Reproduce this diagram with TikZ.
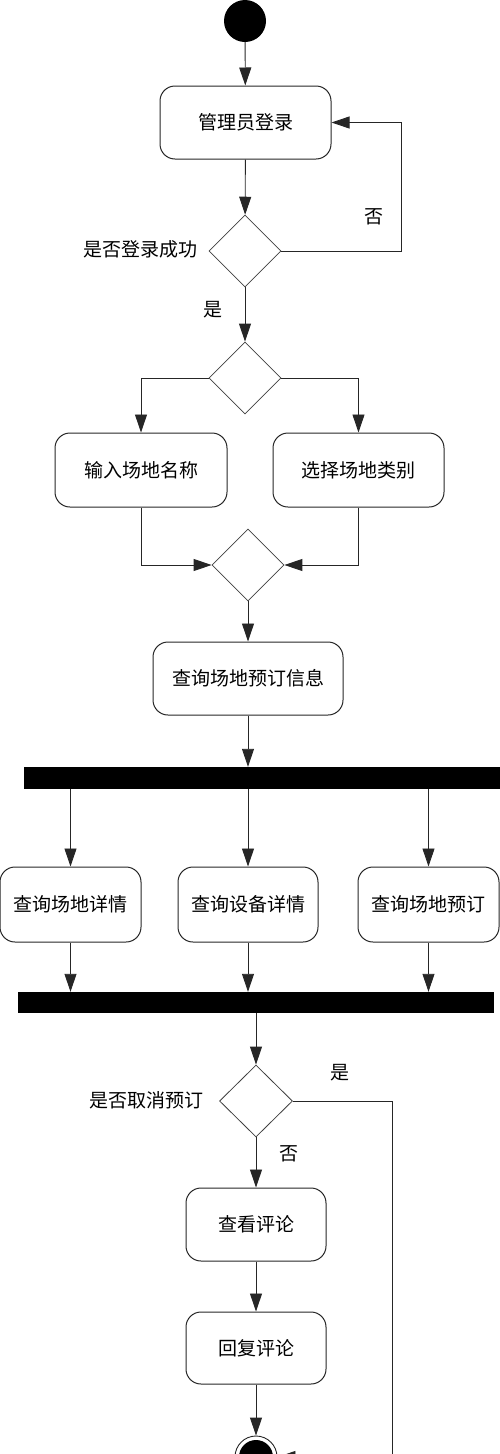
\documentclass[tikz,border=0pt]{standalone}
\usepackage{fontspec}
\setmainfont{Noto Sans CJK SC}
\usetikzlibrary{shapes.geometric,arrows.meta}
\tikzset{
  act/.style={draw=black!85, line width=1pt, rounded corners=15pt, inner sep=0pt, font=\fontsize{19}{22}\selectfont},
  dec/.style={diamond, draw=black!75, line width=0.8pt, minimum width=72pt, minimum height=72pt, inner sep=0pt},
  bar/.style={fill=black, draw=none, inner sep=0pt},
  lbl/.style={inner sep=0pt, font=\fontsize{19}{22}\selectfont},
  flow/.style={draw=black!85, line width=0.9pt, -{Triangle[length=18pt,width=12pt]}},
  plain/.style={draw=black!85, line width=0.9pt},
}
\begin{document}
\begin{tikzpicture}[x=1pt,y=-1pt]
\useasboundingbox (0,0) rectangle (500,1454);
\clip (0,0) rectangle (500,1454);
% nodes
\node[circle, fill=black, minimum size=42pt, inner sep=0pt] (start) at (245,21) {};
\node[act, minimum width=171pt, minimum height=73pt] (login) at (245.5,122.5) {管理员登录};
\node[dec] (d1) at (245,251) {};
\node[lbl, anchor=east] (l1) at (198,249) {是否登录成功};
\node[lbl] (no1) at (374,217) {否};
\node[lbl] (yes1) at (213,310) {是};
\node[dec] (d2) at (245,378) {};
\node[act, minimum width=172pt, minimum height=74pt] (name) at (141,470) {输入场地名称};
\node[act, minimum width=171pt, minimum height=74pt] (type) at (358.5,470) {选择场地类别};
\node[dec] (d3) at (248,565) {};
\node[act, minimum width=190pt, minimum height=73pt] (query) at (248,678.5) {查询场地预订信息};
\node[bar, minimum width=476pt, minimum height=22pt] (bar1) at (262,778) {};
\node[act, minimum width=141pt, minimum height=75pt] (qa) at (70.5,904.5) {查询场地详情};
\node[act, minimum width=140pt, minimum height=75pt] (qb) at (248,904.5) {查询设备详情};
\node[act, minimum width=141pt, minimum height=75pt] (qc) at (428.5,904.5) {查询场地预订};
\node[bar, minimum width=476pt, minimum height=21pt] (bar2) at (256,1002.5) {};
\node[dec, minimum width=73pt] (d4) at (256,1101) {};
\node[lbl, anchor=east] (l4) at (204,1100) {是否取消预订};
\node[lbl] (yes4) at (340,1073) {是};
\node[lbl] (no4) at (289,1154) {否};
\node[act, minimum width=140pt, minimum height=73pt] (view) at (256,1224.5) {查看评论};
\node[act, minimum width=140pt, minimum height=72pt] (reply) at (256,1348) {回复评论};
\node[circle, draw=black!85, line width=0.9pt, minimum size=42pt, inner sep=0pt] (finish) at (256,1457) {};
\node[circle, fill=black, minimum size=34pt, inner sep=0pt] (finishin) at (256,1457) {};
\coordinate (c1) at (401,251);
\coordinate (c4) at (392,1101);
% connectors
\draw[flow] (start) -- (login);
\draw[flow] (login) -- (d1);
\draw[flow] (d1.east) -- (c1) |- (login.east);
\draw[flow] (d1) -- (d2);
\draw[flow] (d2.west) -| (name.north);
\draw[flow] (d2.east) -| (type.north);
\draw[flow] (name.south) |- (d3.west);
\draw[flow] (type.south) |- (d3.east);
\draw[flow] (d3) -- (query);
\draw[flow] (query.south) -- (query.south |- bar1.north);
\draw[flow] (bar1.south -| qa.north) -- (qa.north);
\draw[flow] (bar1.south -| qb.north) -- (qb.north);
\draw[flow] (bar1.south -| qc.north) -- (qc.north);
\draw[flow] (qa.south) -- (qa.south |- bar2.north);
\draw[flow] (qb.south) -- (qb.south |- bar2.north);
\draw[flow] (qc.south) -- (qc.south |- bar2.north);
\draw[flow] (bar2.south -| d4.north) -- (d4.north);
\draw[flow] (d4) -- (view);
\draw[flow] (view) -- (reply);
\draw[flow] (reply) -- (finish);
\draw[flow] (d4.east) -- (c4) |- (finish.east);
\end{tikzpicture}
\end{document}
